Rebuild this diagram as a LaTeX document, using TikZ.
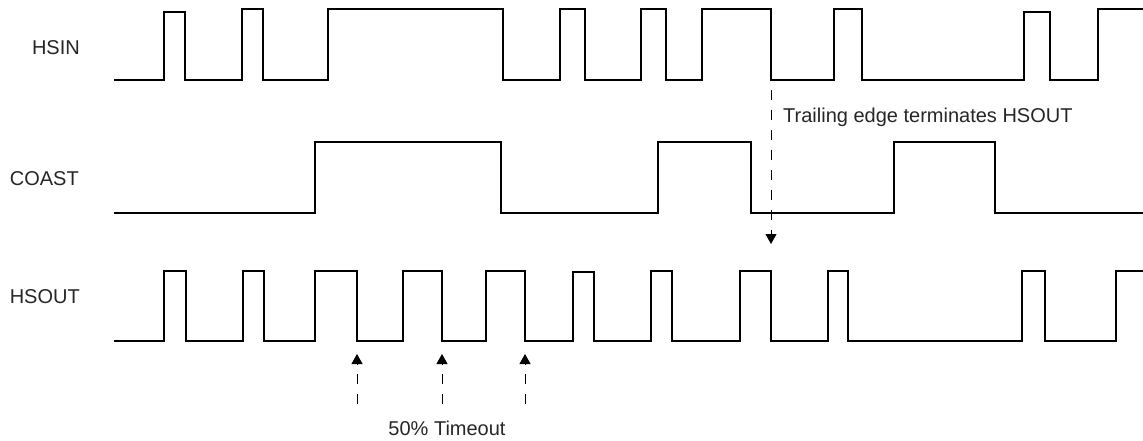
\documentclass[tikz,border=0pt]{standalone}
\usepackage{fontspec}
\setmainfont{Liberation Sans}
\usetikzlibrary{arrows.meta}
\definecolor{txtgray}{HTML}{262626}
\begin{document}
\begin{tikzpicture}[x=1pt,y=-1pt,
  wave/.style={line width=2pt, line join=miter},
  lbl/.style={font=\fontsize{20}{24}\selectfont, text=txtgray, inner sep=0pt},
  dasharrow/.style={line width=1pt, dash pattern=on 10pt off 10pt, -{Triangle[width=11pt,length=10pt]}}]
\useasboundingbox (0,0) rectangle (1143,441);
% labels
\node[lbl, anchor=base east] (hsin) at (80,55) {HSIN};
\node[lbl, anchor=base east] (coast) at (79,185) {COAST};
\node[lbl, anchor=base east] (hsout) at (80,303) {HSOUT};
% HSIN
\draw[wave] (114,80) -- (164,80) -- (164,12) -- (185,12) -- (185,80) -- (242,80) -- (242,9) -- (263,9) -- (263,80)
  -- (328,80) -- (328,9) -- (503,9) -- (503,80) -- (560,80) -- (560,9) -- (585,9) -- (585,80)
  -- (641,80) -- (641,9) -- (666,9) -- (666,80) -- (702,80) -- (702,9) -- (771,9) -- (771,80)
  -- (834,80) -- (834,9) -- (862,9) -- (862,80) -- (1024,80) -- (1024,12) -- (1050,12) -- (1050,80)
  -- (1098,80) -- (1098,9) -- (1143,9);
% COAST
\draw[wave] (114,213) -- (315,213) -- (315,142) -- (501,142) -- (501,213) -- (658,213) -- (658,142) -- (751,142) -- (751,213)
  -- (894,213) -- (894,142) -- (995,142) -- (995,213) -- (1143,213);
% HSOUT
\draw[wave] (114,341) -- (164,341) -- (164,271) -- (186,271) -- (186,341) -- (243,341) -- (243,271) -- (264,271) -- (264,341)
  -- (315,341) -- (315,271) -- (357,271) -- (357,341) -- (403,341) -- (403,271) -- (442,271) -- (442,341)
  -- (486,341) -- (486,271) -- (525,271) -- (525,341) -- (573,341) -- (573,272) -- (594,272) -- (594,341)
  -- (651,341) -- (651,271) -- (672,271) -- (672,341) -- (740,341) -- (740,271) -- (771,271) -- (771,341)
  -- (828,341) -- (828,271) -- (848,271) -- (848,341) -- (1022,341) -- (1022,271) -- (1045,271) -- (1045,341)
  -- (1116,341) -- (1116,271) -- (1143,271);
% trailing edge annotation
\coordinate (tstart) at (771,90);
\coordinate (ttip) at (771,244);
\draw[dasharrow] (tstart) -- (ttip);
\node[lbl, anchor=base west] (trail) at (783,123) {Trailing edge terminates HSOUT};
% timeout annotations
\coordinate (b1) at (357,404); \coordinate (a1) at (357,354);
\coordinate (b2) at (442,404); \coordinate (a2) at (442,354);
\coordinate (b3) at (525,404); \coordinate (a3) at (525,354);
\draw[dasharrow] (b1) -- (a1);
\draw[dasharrow] (b2) -- (a2);
\draw[dasharrow] (b3) -- (a3);
\node[lbl, anchor=base] (timeout) at (447,435) {50\% Timeout};
\end{tikzpicture}
\end{document}
